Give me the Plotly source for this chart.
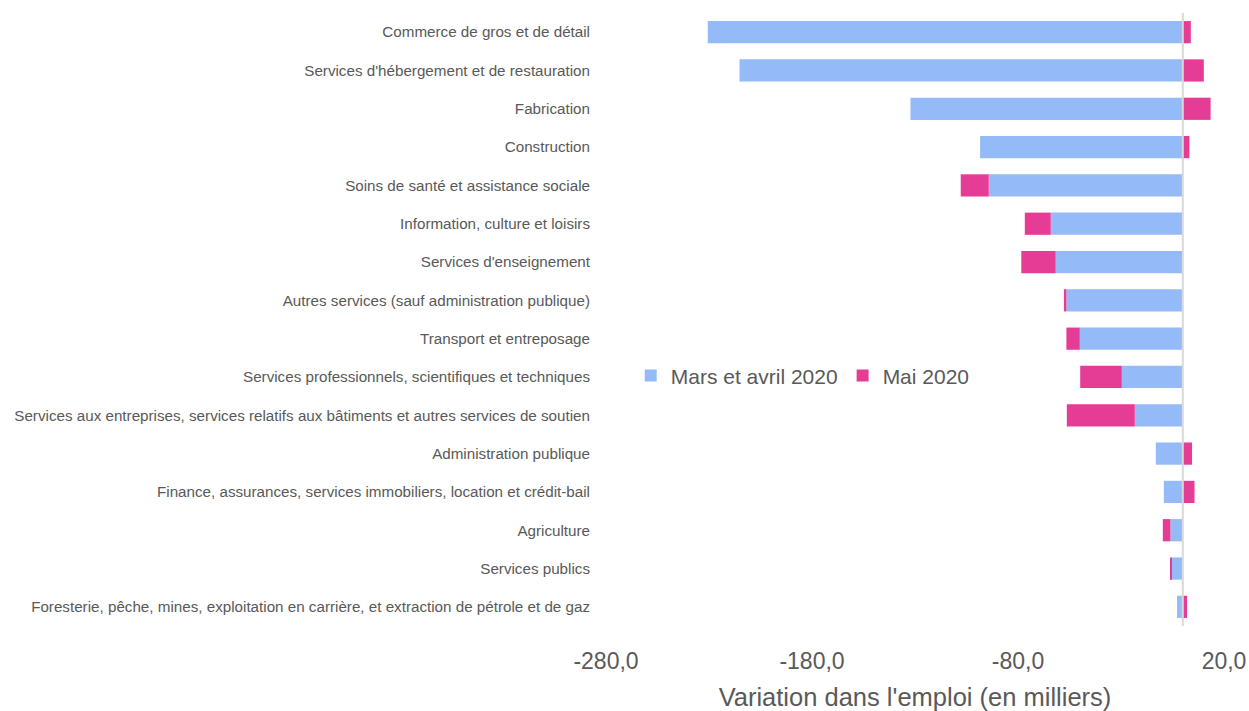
import plotly.graph_objects as go

categories = [
    "Commerce de gros et de détail",
    "Services d'hébergement et de restauration",
    "Fabrication",
    "Construction",
    "Soins de santé et assistance sociale",
    "Information, culture et loisirs",
    "Services d'enseignement",
    "Autres services (sauf administration publique)",
    "Transport et entreposage",
    "Services professionnels, scientifiques et techniques",
    "Services aux entreprises, services relatifs aux bâtiments et autres services de soutien",
    "Administration publique",
    "Finance, assurances, services immobiliers, location et crédit-bail",
    "Agriculture",
    "Services publics",
    "Foresterie, pêche, mines, exploitation en carrière, et extraction de pétrole et de gaz",
]
mars_avril = [-230.6, -215.2, -132.2, -98.4, -94.2, -64.1, -61.7, -56.5, -50.0,
              -29.6, -23.3, -13.1, -9.2, -6.0, -5.7, -2.8]
mai = [3.9, 10.2, 13.5, 3.2, -13.6, -12.6, -16.7, -1.2, -6.5,
       -20.2, -33.0, 4.5, 5.7, -3.7, -0.3, 2.1]
tick_vals = [-280, -180, -80, 20]
tick_text = ["-280,0", "-180,0", "-80,0", "20,0"]

BLUE = "#94BBF7"
PINK = "#E53D95"
GREY = "#595959"
FONT = "Liberation Sans, Arial, sans-serif"

fig = go.Figure()
fig.add_trace(go.Bar(y=categories, x=mars_avril, orientation="h", name="Mars et avril 2020",
                     marker=dict(color=BLUE, line=dict(width=0)), width=0.58))
fig.add_trace(go.Bar(y=categories, x=mai, orientation="h", name="Mai 2020",
                     marker=dict(color=PINK, line=dict(width=0)), width=0.58))

fig.add_shape(type="line", xref="x", yref="paper", x0=0, x1=0, y0=0, y1=1.0,
              line=dict(color="#D9D9D9", width=2), layer="above")

fig.update_layout(
    barmode="relative",
    width=1249, height=711,
    margin=dict(l=606, r=25, t=13, b=85, autoexpand=False),
    paper_bgcolor="white", plot_bgcolor="white",
    font=dict(family=FONT, color=GREY),
    showlegend=True,
    legend=dict(orientation="h", x=0.040, xanchor="left", y=0.408, yanchor="middle",
                font=dict(size=21, color=GREY, family=FONT), bgcolor="rgba(0,0,0,0)",
                traceorder="normal"),
    xaxis=dict(range=[-280, 20], tickvals=tick_vals, ticktext=tick_text,
               showgrid=False, zeroline=False, showline=False, ticks="",
               automargin=False, ticklabelstandoff=19,
               tickfont=dict(size=23, color=GREY, family=FONT),
               title=dict(text="Variation dans l'emploi (en milliers)",
                          font=dict(size=25.5, color=GREY, family=FONT), standoff=15)),
    yaxis=dict(range=[15.5, -0.5], showgrid=False, zeroline=False, showline=False,
               ticks="", automargin=False, tickfont=dict(size=15.2, color=GREY, family=FONT),
               ticklabelstandoff=15),
)

fig.write_html(
    "out.html",
    config={"displayModeBar": False},
    post_script="document.body.style.margin='0';document.body.style.overflow='hidden';",
)
